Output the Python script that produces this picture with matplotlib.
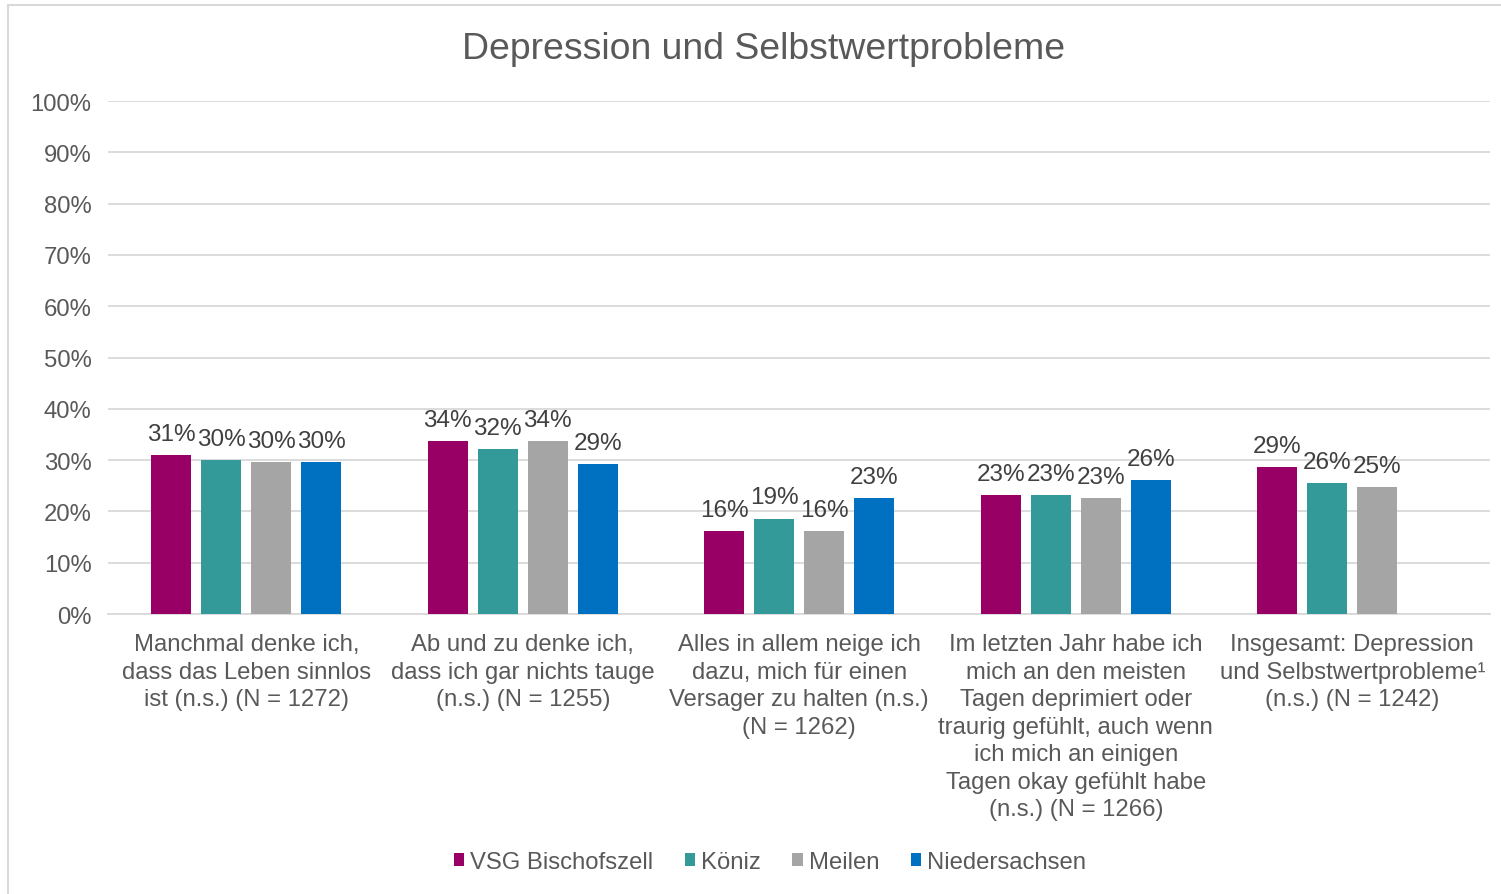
import numpy as np
import matplotlib
matplotlib.use("Agg")
import matplotlib.pyplot as plt
from matplotlib.patches import Rectangle

plt.rcParams['font.family'] = ['Liberation Sans', 'DejaVu Sans']

# Daten
categories = [
    "Manchmal denke ich,\ndass das Leben sinnlos\nist (n.s.) (N = 1272)",
    "Ab und zu denke ich,\ndass ich gar nichts tauge\n(n.s.) (N = 1255)",
    "Alles in allem neige ich\ndazu, mich für einen\nVersager zu halten (n.s.)\n(N = 1262)",
    "Im letzten Jahr habe ich\nmich an den meisten\nTagen deprimiert oder\ntraurig gefühlt, auch wenn\nich mich an einigen\nTagen okay gefühlt habe\n(n.s.) (N = 1266)",
    "Insgesamt: Depression\nund Selbstwertprobleme¹\n(n.s.) (N = 1242)",
]
series_names = ["VSG Bischofszell", "Köniz", "Meilen", "Niedersachsen"]
vsg = [31.0, 33.7, 16.2, 23.2, 28.7]
koeniz = [30.0, 32.2, 18.6, 23.2, 25.5]
meilen = [29.6, 33.7, 16.2, 22.6, 24.8]
niedersachsen = [29.6, 29.2, 22.6, 26.1, np.nan]
colors = ["#990066", "#339999", "#A5A5A5", "#0070C0"]

text_col = "#595959"
grid_col = "#D9D9D9"

fig = plt.figure(figsize=(15.01, 8.95), dpi=100)
ax = fig.add_axes([0.072, 0.3128, 0.921, 0.5732])

x = np.arange(len(categories))
bar_w = 0.145
step = 0.181
all_series = [vsg, koeniz, meilen, niedersachsen]
for i, (vals, name, c) in enumerate(zip(all_series, series_names, colors)):
    pos = x + (i - 1.5) * step
    ax.bar(pos, vals, width=bar_w, color=c, label=name, zorder=3)
    for p, v in zip(pos, vals):
        if np.isnan(v):
            continue
        ax.text(p, v + 2.0, f"{v:.0f}%", ha='center', va='bottom',
                fontsize=17.5, color='#404040')

ax.set_xlim(-0.5, len(categories) - 0.5)
ax.set_ylim(0, 100)
ax.set_yticks(np.arange(0, 101, 10))
ax.set_yticklabels([f"{t}%" for t in range(0, 101, 10)])
ax.yaxis.grid(True, color=grid_col, linewidth=1.3, zorder=0)
ax.set_axisbelow(True)
ax.tick_params(axis='y', length=0, labelsize=17.2, labelcolor=text_col, pad=12)
ax.set_xticks(x)
ax.set_xticklabels(categories, fontsize=17.2, color=text_col, linespacing=1.32)
ax.tick_params(axis='x', length=0, pad=14)
for s in ['top', 'right', 'left']:
    ax.spines[s].set_visible(False)
ax.spines['bottom'].set_color(grid_col)
ax.spines['bottom'].set_linewidth(1.3)

fig.text(0.509, 0.945, "Depression und Selbstwertprobleme", ha='center', va='center',
         fontsize=26.9, color=text_col)

leg = fig.legend(loc='center', bbox_to_anchor=(0.513, 0.036), ncol=4, frameon=False,
                 fontsize=17.2, handlelength=0.45, handleheight=0.45, handletextpad=0.25,
                 columnspacing=1.3)
for t in leg.get_texts():
    t.set_color(text_col)

# Rahmen
fig.patches.append(Rectangle((8 / 1501, -0.05), 1.1, 1 - 6 / 895 + 0.05,
                             transform=fig.transFigure, fill=False,
                             edgecolor=grid_col, linewidth=1.5))

fig.savefig("out.png", dpi=100, facecolor='white')
